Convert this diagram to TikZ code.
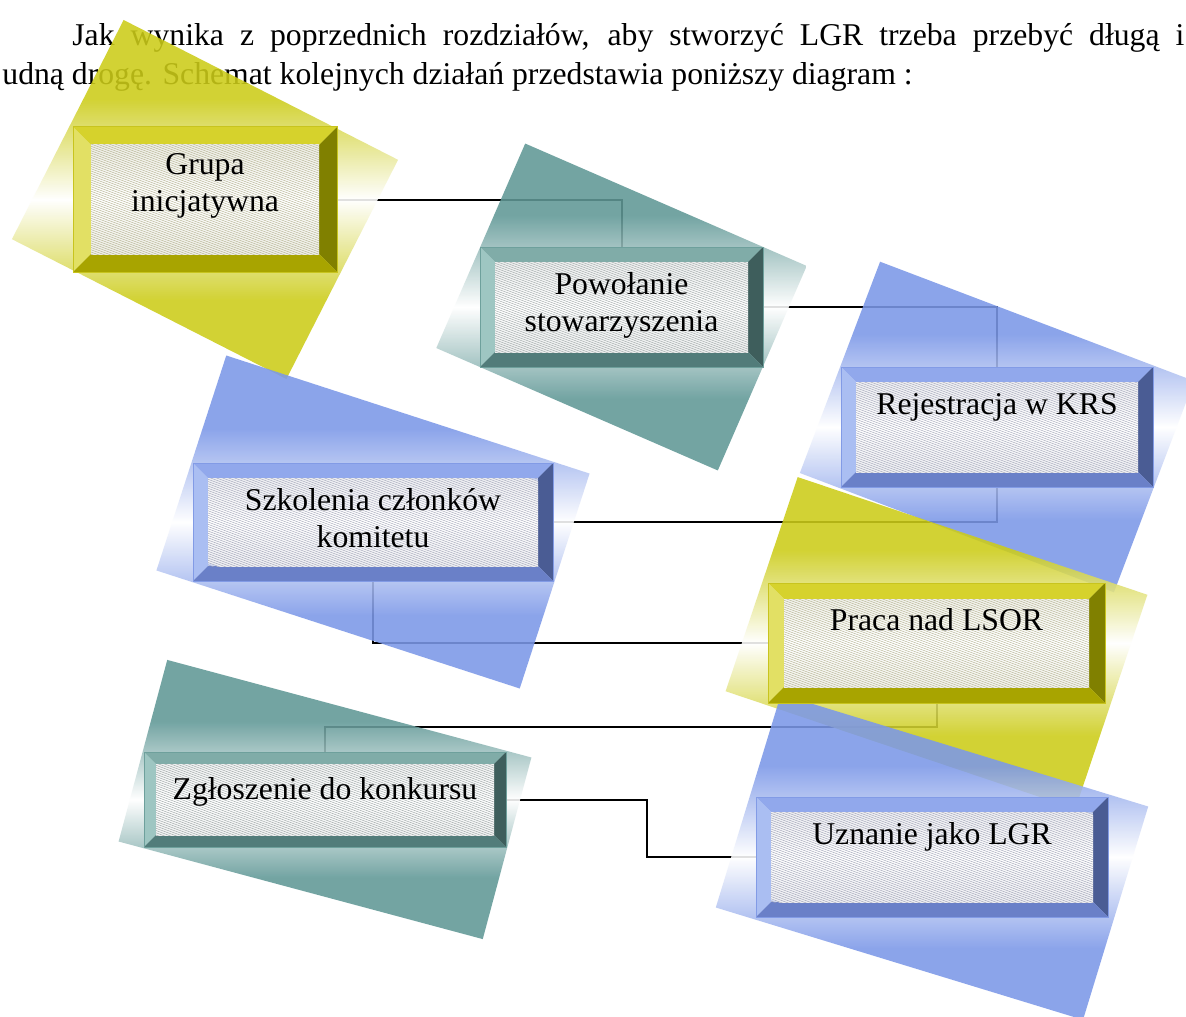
\documentclass[tikz,border=0pt]{standalone}
\usepackage{fontspec}
\setmainfont{Liberation Serif}

\newlength{\du}
\setlength{\du}{0.5pt}

% yellow boxes
\definecolor{ytop}{RGB}{214,210,44}
\definecolor{yleft}{RGB}{226,224,100}
\definecolor{yright}{RGB}{128,128,0}
\definecolor{ybot}{RGB}{168,164,0}
\definecolor{yedge}{RGB}{200,196,30}
\definecolor{yshad}{RGB}{204,204,24}
\definecolor{ytint}{RGB}{150,148,100}
% teal boxes
\definecolor{ttop}{RGB}{128,172,168}
\definecolor{tleft}{RGB}{158,198,194}
\definecolor{tright}{RGB}{62,94,92}
\definecolor{tbot}{RGB}{82,124,122}
\definecolor{tedge}{RGB}{110,160,156}
\definecolor{tshad}{RGB}{96,152,150}
\definecolor{ttint}{RGB}{120,132,132}
% blue boxes
\definecolor{btop}{RGB}{145,168,236}
\definecolor{bleft}{RGB}{170,190,242}
\definecolor{bright}{RGB}{74,92,148}
\definecolor{bbot}{RGB}{106,128,200}
\definecolor{bedge}{RGB}{130,155,230}
\definecolor{bshad}{RGB}{124,152,232}
\definecolor{btint}{RGB}{126,130,156}

% plates: colour on both long sides, white along the middle
\pgfdeclareverticalshading{yplate}{100bp}{color(0bp)=(yshad); color(25bp)=(yshad); color(36bp)=(yshad); color(50bp)=(white); color(64bp)=(yshad); color(75bp)=(yshad); color(100bp)=(yshad)}
\pgfdeclareverticalshading{tplate}{100bp}{color(0bp)=(tshad); color(25bp)=(tshad); color(36bp)=(tshad); color(50bp)=(white); color(64bp)=(tshad); color(75bp)=(tshad); color(100bp)=(tshad)}
\pgfdeclareverticalshading{bplate}{100bp}{color(0bp)=(bshad); color(25bp)=(bshad); color(36bp)=(bshad); color(50bp)=(white); color(64bp)=(bshad); color(75bp)=(bshad); color(100bp)=(bshad)}

\tikzset{
  boxnode/.style={shape=rectangle, inner sep=0pt, outer sep=0pt},
  boxtext/.style={anchor=north, align=center, inner sep=0pt, font=\fontsize{15.85}{18.5}\selectfont},
  bodytext/.style={anchor=base west, inner sep=0pt, font=\fontsize{15.85}{18.5}\selectfont},
  link/.style={draw=black, line width=1pt},
  hatchline/.style={draw=#1tint!75!white, line width=0.2pt},
  innerfill/.style={top color=#1tint!60!white, bottom color=#1tint!60!white, middle color=white},
  platefill/.style={shading=#1plate, opacity=0.88},
}

% empty named node over the outer frame
\newcommand{\lgrnode}[5]{%
  \node[boxnode, minimum width={(#4-#2)*\du}, minimum height={(#5-#3)*\du}] (#1) at ({(#2+#4)/2},{(#3+#5)/2}) {};}

% rotated shaded plate behind a box
\newcommand{\lgrshadow}[5]{%
  \begin{scope}[shift={(#1.center)}, rotate=#4]
    \shade[platefill=#5] (-#2/2,-#3/2) rectangle (#2/2,#3/2);
  \end{scope}}

% bevelled frame, hatched face and label
\newcommand{\lgrframe}[8]{%
  \fill[#7top] (#2,#3)--(#4,#3)--(#4-#6,#3+#6)--(#2+#6,#3+#6)--cycle;
  \fill[#7left] (#2,#3)--(#2+#6,#3+#6)--(#2+#6,#5-#6)--(#2,#5)--cycle;
  \fill[#7right] (#4,#3)--(#4,#5)--(#4-#6,#5-#6)--(#4-#6,#3+#6)--cycle;
  \fill[#7bot] (#2,#5)--(#2+#6,#5-#6)--(#4-#6,#5-#6)--(#4,#5)--cycle;
  \begin{scope}
    \clip (#2+#6,#3+#6) rectangle (#4-#6,#5-#6);
    \begin{scope}[shift={(#1.center)}, rotate=20]
      \shade[innerfill=#7] (-300,-95) rectangle (300,95);
    \end{scope}
    \foreach \k in {0,6,...,760}
      \draw[hatchline=#7] (#2+#6-330+\k,#3+#6-10) -- ++(480,180);
  \end{scope}
  \draw[#7edge, line width=0.5pt] (#1.north west) rectangle (#1.south east);
  \node[boxtext] (#1-txt) at ({(#2+#4)/2},#3+21) {\strut #8};}

\begin{document}
\begin{tikzpicture}[x=\du,y=\du]
\pgftransformyscale{-1.000000}
\useasboundingbox (0,0) rectangle (1186,1016);
\fill[white] (0,0) rectangle (1186,1016);
\clip (0,0) rectangle (1186,1016);
% text above the diagram
\node[bodytext] (para1) at (72,46) {\makebox[1112\du][s]{Jak wynika z poprzednich rozdziałów, aby stworzyć LGR trzeba przebyć długą i}};
\node[bodytext] (para2) at (2,85) {udną drogę. Schemat kolejnych działań przedstawia poniższy diagram :};
% boxes
\lgrnode{grupa}{73}{127}{337}{272}
\lgrnode{powol}{480}{247}{763}{367}
\lgrnode{rejestr}{841}{367}{1153}{487}
\lgrnode{szkol}{193}{463}{553}{581}
\lgrnode{praca}{768}{583}{1105}{703}
\lgrnode{zglosz}{144}{752}{506}{847}
\lgrnode{uznanie}{756}{797}{1108}{917}
% connectors
\draw[link] (grupa.east) -| (powol.north);
\draw[link] (powol.east) -| (rejestr.north);
\draw[link] (rejestr.south) |- (szkol.east);
\draw[link] (szkol.south) |- (praca.west);
\draw[link] (praca.south) -- ++(0,24) -| (zglosz.north);
\draw[link] (zglosz.east) -- ++(141,0) |- (uznanie.west);
% shaded plates
\lgrshadow{grupa}{308}{246}{27}{y}
\lgrshadow{powol}{307}{223}{23.5}{t}
\lgrshadow{rejestr}{336}{226}{20.8}{b}
\lgrshadow{szkol}{382}{226}{18}{b}
\lgrshadow{praca}{369}{226}{18.6}{y}
\lgrshadow{zglosz}{377}{188}{15}{t}
\lgrshadow{uznanie}{384}{223}{17}{b}
% frames
\lgrframe{grupa}{73}{127}{337}{272}{18}{y}{Grupa\\inicjatywna}
\lgrframe{powol}{480}{247}{763}{367}{15}{t}{Powołanie\\stowarzyszenia}
\lgrframe{rejestr}{841}{367}{1153}{487}{15}{b}{Rejestracja w KRS}
\lgrframe{szkol}{193}{463}{553}{581}{15}{b}{Szkolenia członków\\komitetu}
\lgrframe{praca}{768}{583}{1105}{703}{16}{y}{Praca nad LSOR}
\lgrframe{zglosz}{144}{752}{506}{847}{12}{t}{Zgłoszenie do konkursu}
\lgrframe{uznanie}{756}{797}{1108}{917}{15}{b}{Uznanie jako LGR}
\end{tikzpicture}
\end{document}
